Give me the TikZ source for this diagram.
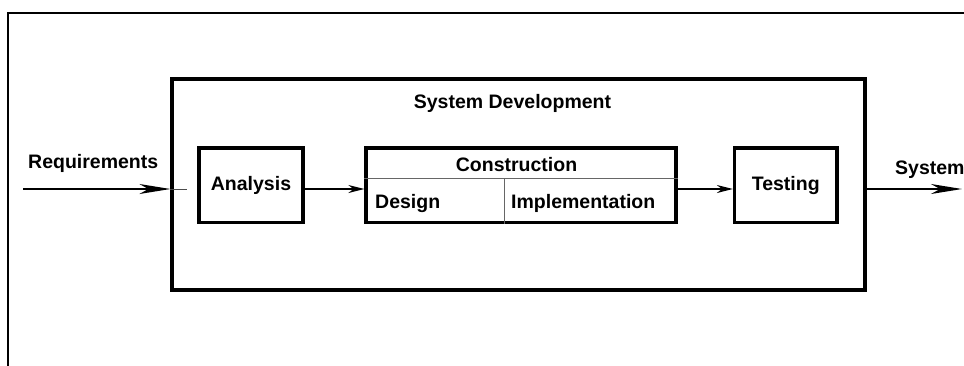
\documentclass[tikz,border=0pt]{standalone}
\usepackage{fontspec}
\setmainfont{Liberation Sans}
\usetikzlibrary{arrows.meta,positioning,calc}

\begin{document}
\begin{tikzpicture}[x=1pt,y=-1pt]
  \tikzset{
  blk/.style={draw,line width=3.2pt,inner sep=0pt,font=\fontsize{19.5}{22}\selectfont\bfseries},
  txt/.style={font=\fontsize{19.5}{22}\selectfont\bfseries,inner sep=0pt},
  sep/.style={draw=black!60,line width=1pt},
  flow/.style={line width=1.5pt,-{Stealth[length=16pt,width=8pt,inset=5pt]}},
  io/.style={line width=1.5pt,-{Stealth[length=31pt,width=10pt,inset=9pt]}},
  }
  \useasboundingbox (0,0) rectangle (964,365);
  % the frame
  \draw[line width=1.5pt] (8,370) -- (8,13) -- (970,13);

  % the boxes
  \node[blk,minimum width=693pt,minimum height=211pt] (dev) at (518.5,184.5) {};
  \node[blk,minimum width=104pt,minimum height=74.5pt] (ana) at (251,185.25) {Analysis};
  \node[blk,minimum width=310pt,minimum height=74.5pt] (cons) at (521,185.25) {};
  \node[blk,minimum width=102.5pt,minimum height=74.5pt] (test) at (785.75,185.25) {Testing};

  % the labels
  \node[txt,anchor=base] (devlbl) at (512.5,108) {System Development};
  \node[txt,anchor=base] (conslbl) at (516.5,171) {Construction};
  \node[txt,anchor=base west] (design) at (375,208) {Design};
  \node[txt,anchor=base west] (impl) at (511,208) {Implementation};
  \node[txt,anchor=base west] (reqlbl) at (28,168) {Requirements};
  \node[txt,anchor=base west] (syslbl) at (895,174) {System};

  % the parts of construction
  \coordinate (mid) at (0,178.7);
  \coordinate (cut) at (504,0);
  \draw[sep] (cons.west |- mid) -- (cons.east |- mid);
  \draw[sep] (cut |- mid) -- (cut |- cons.south);

  % the flow between the boxes
  \coordinate (lvl) at (0,189);
  \coordinate (req) at (23,189);
  \coordinate (sys) at (962,189);
  \draw[io] (req) -- (dev.west |- lvl);
  \draw[line width=1pt,black!70] (dev.west |- lvl) -- ++(17,0);
  \draw[flow] (ana.east |- lvl) -- (cons.west |- lvl);
  \draw[flow] (cons.east |- lvl) -- (test.west |- lvl);
  \draw[io] (dev.east |- lvl) -- (sys);
\end{tikzpicture}
\end{document}
